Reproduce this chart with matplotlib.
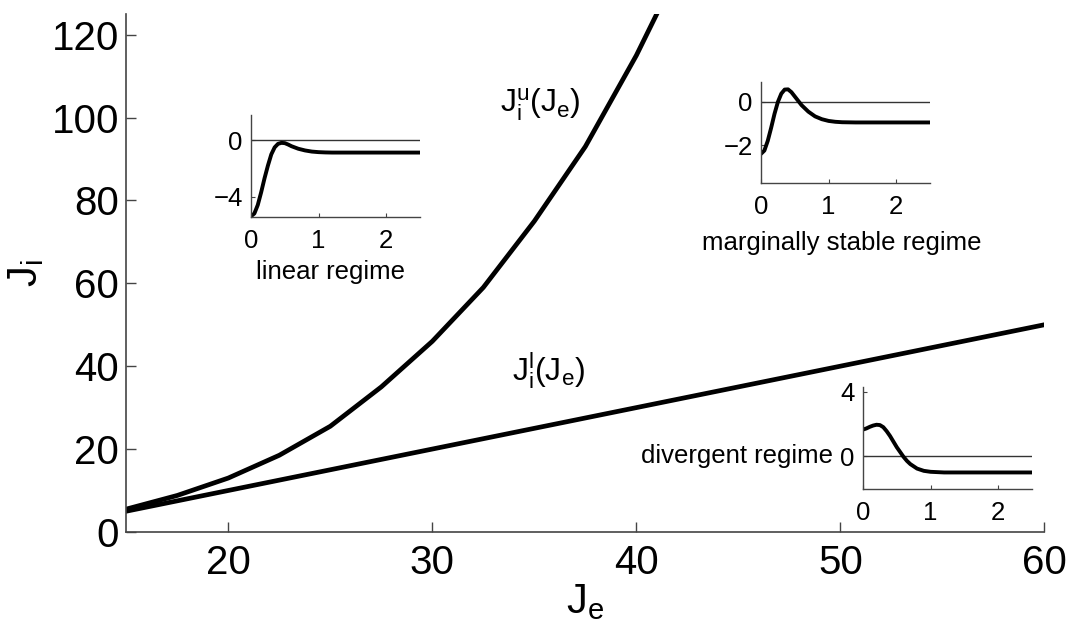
import matplotlib
matplotlib.use("Agg")
import matplotlib.pyplot as plt
import numpy as np

plt.rcParams["font.family"] = ["Liberation Sans", "DejaVu Sans"]
plt.rcParams["mathtext.fontset"] = "custom"
plt.rcParams["mathtext.rm"] = "Liberation Sans"
plt.rcParams["mathtext.it"] = "Liberation Sans"

# main curves
je_upper = [15, 17.5, 20, 22.5, 25, 27.5, 30, 32.5, 35, 37.5, 40, 42.5]
ji_upper = [5.5, 8.8, 13, 18.5, 25.5, 35, 46, 59, 75, 93, 115, 140]
je_lower = [15, 60]
ji_lower = [5, 50]

# inset traces (time, value)
t_lin = [0, 0.05, 0.1, 0.15, 0.2, 0.25, 0.3, 0.35, 0.4, 0.45, 0.5, 0.55, 0.6, 0.7,
         0.8, 0.9, 1.0, 1.1, 1.2, 1.4, 1.7, 2.0, 2.5]
v_lin = [-5.4, -5.2, -4.6, -3.7, -2.7, -1.8, -1.0, -0.5, -0.25, -0.18, -0.2, -0.3,
         -0.42, -0.6, -0.72, -0.8, -0.84, -0.86, -0.87, -0.87, -0.87, -0.87, -0.87]

t_marg = [0, 0.05, 0.1, 0.15, 0.2, 0.25, 0.3, 0.35, 0.4, 0.45, 0.5, 0.55, 0.6, 0.7,
          0.8, 0.9, 1.0, 1.1, 1.2, 1.4, 1.7, 2.0, 2.5]
v_marg = [-2.4, -2.25, -1.8, -1.2, -0.55, 0.0, 0.38, 0.57, 0.58, 0.45, 0.25, 0.05,
          -0.15, -0.45, -0.67, -0.8, -0.88, -0.92, -0.94, -0.95, -0.95, -0.95, -0.95]

t_div = [0, 0.05, 0.1, 0.15, 0.2, 0.25, 0.3, 0.35, 0.4, 0.45, 0.5, 0.55, 0.6, 0.65,
         0.7, 0.8, 0.9, 1.0, 1.1, 1.2, 1.4, 1.7, 2.0, 2.5]
v_div = [1.65, 1.72, 1.82, 1.9, 1.95, 1.93, 1.8, 1.55, 1.25, 0.9, 0.55, 0.25, -0.05,
         -0.3, -0.5, -0.78, -0.92, -0.98, -1.0, -1.02, -1.02, -1.02, -1.02, -1.02]

SPINE = "#444444"

fig = plt.figure(figsize=(10.79, 6.34), dpi=100)
ax = fig.add_axes([0.117, 0.161, 0.851, 0.817])
ax.plot(je_upper, ji_upper, color="black", lw=3.4, solid_joinstyle="round")
ax.plot(je_lower, ji_lower, color="black", lw=3.4)
ax.set_xlim(15, 60)
ax.set_ylim(0, 125)
ax.set_xticks([20, 30, 40, 50, 60])
ax.set_yticks([0, 20, 40, 60, 80, 100, 120])
ax.tick_params(direction="in", length=7, width=1, colors=SPINE, labelcolor="black",
               labelsize=29)
ax.tick_params(axis="y", pad=5)
ax.tick_params(axis="x", pad=9)
for side in ["top", "right"]:
    ax.spines[side].set_visible(False)
for side in ["left", "bottom"]:
    ax.spines[side].set_color(SPINE)
    ax.spines[side].set_linewidth(1.2)
ax.set_xlabel(r"$\mathrm{J_e}$", fontsize=30, labelpad=0)
ax.set_ylabel(r"$\mathrm{J_i}$", fontsize=30, labelpad=4)

ax.text(35.3, 103, r"$\mathrm{J_i^u(J_e)}$", fontsize=23, ha="center", va="center")
ax.text(35.7, 39, r"$\mathrm{J_i^l(J_e)}$", fontsize=23, ha="center", va="center")


def inset(rect, t, v, ylim, yticks, label, label_pos):
    a = fig.add_axes(rect)
    a.axhline(0, color="#333333", lw=1.0)
    a.plot(t, v, color="black", lw=2.8)
    a.set_xlim(0, 2.5)
    a.set_ylim(*ylim)
    a.set_xticks([0, 1, 2])
    a.set_yticks(yticks)
    a.set_yticklabels([("\u2212" + str(-y)) if y < 0 else str(y) for y in yticks])
    a.tick_params(direction="in", length=3, width=0.8, colors=SPINE, labelcolor="black",
                  labelsize=18.5)
    a.tick_params(axis="x", pad=9)
    a.tick_params(axis="y", pad=6)
    for side in ["top", "right"]:
        a.spines[side].set_visible(False)
    for side in ["left", "bottom"]:
        a.spines[side].set_color(SPINE)
        a.spines[side].set_linewidth(1.0)
    fig.text(label_pos[0], label_pos[1], label, fontsize=18.5, ha="center", va="center")
    return a


def rect_px(x0, x1, ytop, ybot):
    W, H = 1079, 634
    return [x0 / W, 1 - ybot / H, (x1 - x0) / W, (ybot - ytop) / H]


inset(rect_px(251, 420, 115, 217), t_lin, v_lin, (-5.45, 1.8), [-4, 0],
      "linear regime", (331 / 1079, 1 - 272 / 634))
inset(rect_px(761, 930, 82, 183), t_marg, v_marg, (-3.75, 0.92), [-2, 0],
      "marginally stable regime", (842 / 1079, 1 - 243 / 634))
inset(rect_px(863, 1032, 387, 489), t_div, v_div, (-2.05, 4.3), [0, 4],
      "divergent regime", (737 / 1079, 1 - 456 / 634))

fig.savefig("out.png", dpi=100)
